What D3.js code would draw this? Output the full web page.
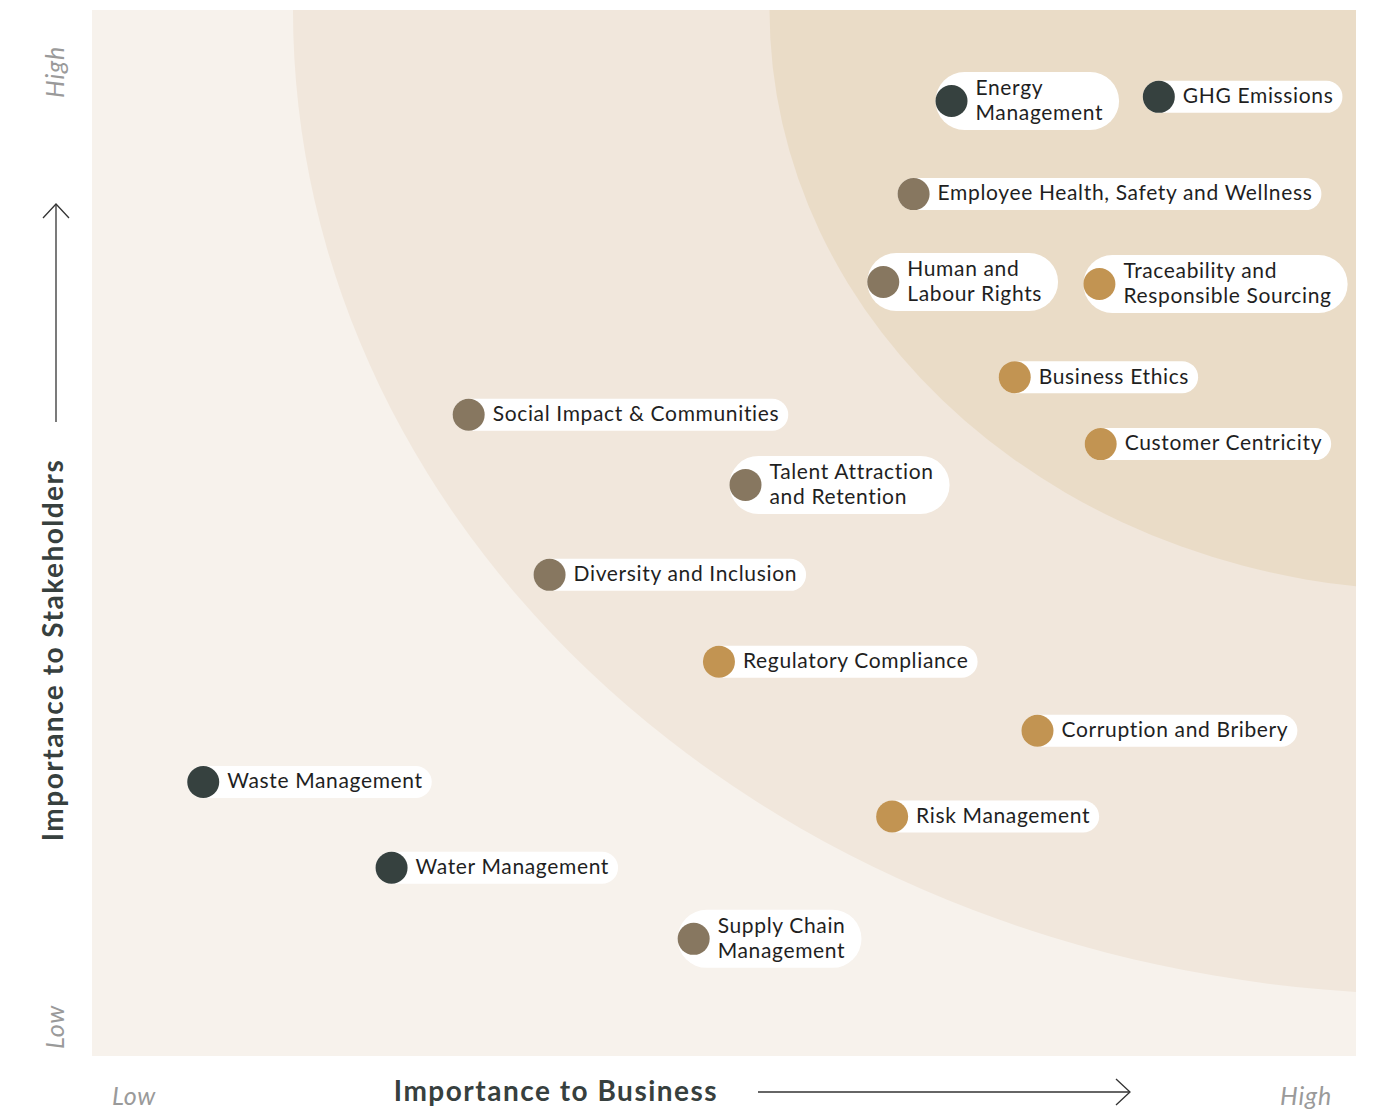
<!DOCTYPE html>
<html>
<head>
<meta charset="utf-8">
<script src="https://cdn.jsdelivr.net/npm/d3@7"></script>
<style>
  html, body { margin: 0; padding: 0; background: #ffffff; }
  svg { display: block; }
</style>
</head>
<body>
<svg id="chart" width="1373" height="1109"></svg>
<script>
// ---- data ----
const topics = [
  "Energy Management", "GHG Emissions", "Employee Health, Safety and Wellness",
  "Human and Labour Rights", "Traceability and Responsible Sourcing", "Business Ethics",
  "Social Impact & Communities", "Customer Centricity", "Talent Attraction and Retention",
  "Diversity and Inclusion", "Regulatory Compliance", "Corruption and Bribery",
  "Waste Management", "Risk Management", "Water Management", "Supply Chain Management"
];
const labelLines = [
  ["Energy", "Management"], ["GHG Emissions"], ["Employee Health, Safety and Wellness"],
  ["Human and", "Labour Rights"], ["Traceability and", "Responsible Sourcing"], ["Business Ethics"],
  ["Social Impact & Communities"], ["Customer Centricity"], ["Talent Attraction", "and Retention"],
  ["Diversity and Inclusion"], ["Regulatory Compliance"], ["Corruption and Bribery"],
  ["Waste Management"], ["Risk Management"], ["Water Management"], ["Supply Chain", "Management"]
];
const businessImportance =     [6.80, 8.44, 6.50, 6.26, 7.97, 7.30, 2.98, 7.98, 5.17, 3.62, 4.96, 7.48, 0.88, 6.33, 2.37, 4.76];
const stakeholderImportance =  [9.13, 9.17, 8.24, 7.40, 7.38, 6.49, 6.13, 5.85, 5.46, 4.60, 3.77, 3.11, 2.62, 2.29, 1.80, 1.12];
const pillar = ["env", "env", "social", "social", "gov", "gov", "social", "gov", "social",
                "social", "gov", "gov", "env", "gov", "env", "social"];
const pillarKeys = ["env", "social", "gov"];
const pillarColors = ["#36413f", "#877760", "#c29452"];

// priority zones (ellipses anchored beyond the high/high corner, in data units)
const zoneNames = ["outer", "inner"];
const zoneCenterX = [10.63, 10.63];
const zoneCenterY = [10.0, 10.0];
const zoneRadiusX = [9.04, 5.27];
const zoneRadiusY = [9.41, 5.55];
const zoneColors = ["#f1e7dc", "#eadcc7"];

const axisLowHigh = ["Low", "High"];
const xTitle = "Importance to Business";
const yTitle = "Importance to Stakeholders";

// ---- layout ----
const svg = d3.select("#chart");
const plot = { left: 92, right: 1356, top: 10, bottom: 1056 };
const x = d3.scaleLinear().domain([0, 10]).range([plot.left, plot.right]);
const y = d3.scaleLinear().domain([0, 10]).range([plot.bottom, plot.top]);
const color = d3.scaleOrdinal().domain(pillarKeys).range(pillarColors);

const defs = svg.append("defs");
defs.append("clipPath").attr("id", "plotClip")
  .append("rect").attr("x", plot.left).attr("y", plot.top)
  .attr("width", plot.right - plot.left).attr("height", plot.bottom - plot.top);

svg.append("rect").attr("x", plot.left).attr("y", plot.top)
  .attr("width", plot.right - plot.left).attr("height", plot.bottom - plot.top)
  .attr("fill", "#f7f2ec");

const zones = zoneNames.map((n, i) => ({ n, cx: zoneCenterX[i], cy: zoneCenterY[i], rx: zoneRadiusX[i], ry: zoneRadiusY[i], c: zoneColors[i] }));
svg.append("g").attr("clip-path", "url(#plotClip)")
  .selectAll("ellipse").data(zones).join("ellipse")
  .attr("cx", d => x(d.cx)).attr("cy", d => y(d.cy))
  .attr("rx", d => x(d.rx) - x(0)).attr("ry", d => y(0) - y(d.ry))
  .attr("fill", d => d.c);

// ---- points ----
const data = topics.map((t, i) => ({ t, lines: labelLines[i], bx: businessImportance[i], sy: stakeholderImportance[i], p: pillar[i] }));
const fontFam = "Lato, 'Noto Sans', sans-serif";
const fs = 21, lh = 25, r = 16;

const g = svg.append("g");
const items = g.selectAll("g.item").data(data).join("g").attr("class", "item")
  .attr("transform", d => `translate(${x(d.bx)},${y(d.sy)})`);

const pills = items.append("rect").attr("fill", "#ffffff");
const texts = items.append("text")
  .attr("font-family", fontFam).attr("font-size", fs).attr("fill", "#1f1f1f")
  .attr("letter-spacing", 0.65);
texts.each(function(d) {
  const t = d3.select(this);
  const n = d.lines.length;
  d.lines.forEach((ln, k) => {
    t.append("tspan").attr("x", 24)
      .attr("y", (k - (n - 1) / 2) * lh - 1)
      .attr("dy", "0.35em").text(ln);
  });
});
pills.each(function(d, i) {
  const tw = texts.nodes()[i].getBBox().width;
  const n = d.lines.length;
  const h = n === 1 ? 32 : 58;
  const pad = n === 1 ? 9 : 16;
  d3.select(this)
    .attr("x", -r).attr("y", -h / 2)
    .attr("width", r + 24 + tw + pad).attr("height", h)
    .attr("rx", h / 2).attr("ry", h / 2);
});
items.append("circle").attr("r", r).attr("fill", d => color(d.p));

// ---- axes ----
const titleColor = "#37403e";
const lowHighColor = "#9a9a9a";

// y axis title
svg.append("text")
  .attr("transform", `translate(63,650) rotate(-90)`)
  .attr("text-anchor", "middle")
  .attr("font-family", fontFam).attr("font-weight", 700).attr("font-size", 28)
  .attr("fill", titleColor).attr("letter-spacing", 1.5)
  .text(yTitle);
// y arrow
svg.append("line").attr("x1", 56).attr("x2", 56).attr("y1", 422).attr("y2", 205)
  .attr("stroke", "#333").attr("stroke-width", 1.3);
svg.append("path").attr("d", "M43,218 L56,204 L69,218")
  .attr("fill", "none").attr("stroke", "#333").attr("stroke-width", 1.3);
// y low/high
svg.append("text").attr("transform", `translate(64,${y(10) + 62}) rotate(-90)`)
  .attr("text-anchor", "middle").attr("font-family", fontFam).attr("font-style", "italic")
  .attr("font-size", 25).attr("letter-spacing", 0.8).attr("fill", lowHighColor).text(axisLowHigh[1]);
svg.append("text").attr("transform", `translate(64,${y(0) - 29}) rotate(-90)`)
  .attr("text-anchor", "middle").attr("font-family", fontFam).attr("font-style", "italic")
  .attr("font-size", 25).attr("letter-spacing", 0.8).attr("fill", lowHighColor).text(axisLowHigh[0]);

// x axis title
svg.append("text").attr("x", 556).attr("y", 1101)
  .attr("text-anchor", "middle")
  .attr("font-family", fontFam).attr("font-weight", 700).attr("font-size", 28)
  .attr("fill", titleColor).attr("letter-spacing", 1.5)
  .text(xTitle);
svg.append("line").attr("x1", 758).attr("x2", 1129).attr("y1", 1092).attr("y2", 1092)
  .attr("stroke", "#333").attr("stroke-width", 1.3);
svg.append("path").attr("d", "M1116,1079 L1130,1092 L1116,1105")
  .attr("fill", "none").attr("stroke", "#333").attr("stroke-width", 1.3);
svg.append("text").attr("x", 134).attr("y", 1105).attr("text-anchor", "middle")
  .attr("font-family", fontFam).attr("font-style", "italic")
  .attr("font-size", 25).attr("letter-spacing", 0.8).attr("fill", lowHighColor).text(axisLowHigh[0]);
svg.append("text").attr("x", 1306).attr("y", 1105).attr("text-anchor", "middle")
  .attr("font-family", fontFam).attr("font-style", "italic")
  .attr("font-size", 25).attr("letter-spacing", 0.8).attr("fill", lowHighColor).text(axisLowHigh[1]);
</script>
</body>
</html>
